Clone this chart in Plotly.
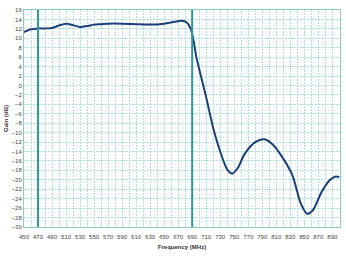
import plotly.graph_objects as go

freq = [450, 460, 470, 480, 490, 500, 510, 520, 530, 540, 550, 560, 570, 590, 610, 630, 650, 665, 675, 682,
        688, 692, 696, 700, 710, 720, 730, 740, 747, 755, 765, 780, 793, 805, 820, 833, 845, 854, 862, 875,
        887, 895, 900]
gain = [11.3, 11.9, 12.1, 12.1, 12.2, 12.7, 13.1, 12.8, 12.4, 12.6, 12.9, 13.0, 13.1, 13.1, 13.0, 12.9, 13.1, 13.5, 13.7, 13.4,
        12.0, 9.5, 6.0, 3.5, -2.5, -9.0, -14.0, -17.8, -18.7, -17.5, -14.5, -12.0, -11.4, -12.5, -15.5, -19.0,
        -25.0, -27.2, -26.5, -22.5, -20.0, -19.3, -19.4]
x_ticks = list(range(450, 900, 20))
y_ticks = list(range(-30, 17, 2))
markers = [470, 690]

fig = go.Figure()
fig.add_trace(go.Scatter(x=freq, y=gain, mode="lines",
                         line=dict(color="#1c3f78", width=2, shape="spline", smoothing=0.8),
                         showlegend=False, hoverinfo="skip"))
for m in markers:
    fig.add_vline(x=m, line=dict(color="#2a9a97", width=2))

grid = "#b2e0dd"
fig.update_layout(
    width=346, height=256,
    margin=dict(l=22, r=5, t=10, b=29),
    paper_bgcolor="white", plot_bgcolor="white",
    font=dict(family="Liberation Sans, Arial", size=6, color="#444"),
    xaxis=dict(range=[450, 901], tickmode="array", tickvals=x_ticks,
               ticktext=[str(v) for v in x_ticks],
               showgrid=True, gridcolor=grid, griddash="2px,1px", gridwidth=1,
               minor=dict(dtick=10, tick0=450, showgrid=True, gridcolor=grid, griddash="2px,1px", gridwidth=1),
               showline=True, linecolor="#8ccac6", mirror=True, zeroline=False,
               ticks="", ticklabelstandoff=4, tickfont=dict(size=6, color="#444"),
               title=dict(text="<b>Frequency (MHz)</b>", font=dict(size=6, color="#333"), standoff=5)),
    yaxis=dict(range=[-30, 16], tickmode="array", tickvals=y_ticks,
               showgrid=True, gridcolor=grid, griddash="2px,1px", gridwidth=1,
               showline=True, linecolor="#8ccac6", mirror=True, zeroline=False,
               ticks="", tickfont=dict(size=6, color="#444"),
               title=dict(text="<b>Gain (dB)</b>", font=dict(size=6, color="#333"), standoff=2)),
)
fig.write_html("out.html")
